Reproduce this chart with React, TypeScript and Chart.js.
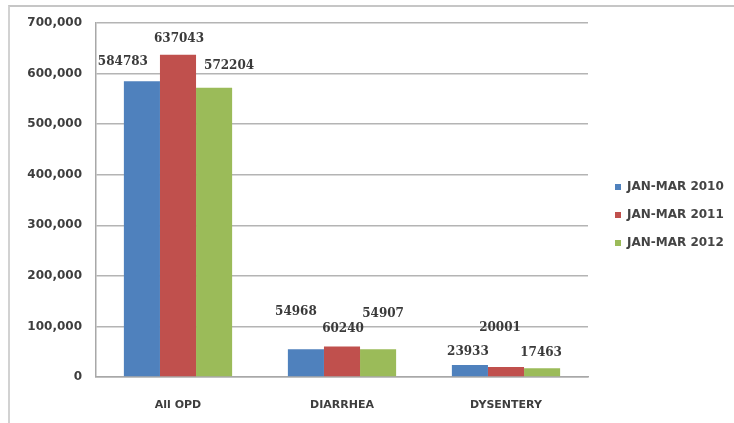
import React, { useEffect, useRef } from "react";
import { Chart, registerables } from "chart.js";

Chart.register(...registerables);

const categories = ["All OPD", "DIARRHEA", "DYSENTERY"];
const seriesLabels = ["JAN-MAR 2010", "JAN-MAR 2011", "JAN-MAR 2012"];
const values2010 = [584783, 54968, 23933];
const values2011 = [637043, 60240, 20001];
const values2012 = [572204, 54907, 17463];
const seriesColors = ["#4F81BD", "#C0504D", "#9BBB59"];
const yMin = 0;
const yMax = 700000;
const yStep = 100000;

// label placement offsets (dx, dy) relative to each bar's top centre, as in the original
const labelOffsets = [
  [[-19, -19], [-10, -37], [-2, -13]],
  [[1, -16], [1, -18], [-6, -39]],
  [[15, -22], [5, -35], [-1, -15]],
];

const valueLabelPlugin = {
  id: "valueLabels",
  afterDatasetsDraw(chart: any) {
    const ctx = chart.ctx;
    ctx.save();
    ctx.font = "bold 12px 'DejaVu Serif'";
    ctx.fillStyle = "#3a3a3a";
    ctx.textAlign = "center";
    ctx.textBaseline = "middle";
    chart.data.datasets.forEach((ds: any, di: number) => {
      const meta = chart.getDatasetMeta(di);
      meta.data.forEach((el: any, i: number) => {
        const off = labelOffsets[di][i];
        ctx.fillText(String(ds.data[i]), el.x + off[0], el.y + off[1]);
      });
    });
    ctx.restore();
  },
};

const legendPlugin = {
  id: "customLegend",
  afterDraw(chart: any) {
    const ctx = chart.ctx;
    const area = chart.chartArea;
    ctx.save();
    ctx.font = "bold 12px 'DejaVu Sans'";
    ctx.textBaseline = "middle";
    ctx.textAlign = "left";
    chart.data.datasets.forEach((ds: any, di: number) => {
      const y = 187 + di * 28;
      const x = area.right + 27;
      ctx.fillStyle = ds.backgroundColor;
      ctx.fillRect(x, y - 3, 6, 6);
      ctx.fillStyle = "#444";
      ctx.fillText(ds.label, x + 12, y);
    });
    ctx.restore();
  },
};

export default function App() {
  const canvasRef = useRef<HTMLCanvasElement | null>(null);

  useEffect(() => {
    if (!canvasRef.current) return;
    const seriesValues = [values2010, values2011, values2012];
    const chart = new Chart(canvasRef.current, {
      type: "bar",
      data: {
        labels: categories,
        datasets: seriesLabels.map((label, i) => ({
          label,
          data: seriesValues[i],
          backgroundColor: seriesColors[i],
          borderWidth: 0,
          categoryPercentage: 0.66,
          barPercentage: 1.0,
        })),
      },
      options: {
        animation: false,
        responsive: false,
        maintainAspectRatio: false,
        layout: { padding: { left: 0, top: 23, right: 146, bottom: 0 } },
        plugins: {
          legend: { display: false },
          tooltip: { enabled: false },
        },
        scales: {
          x: {
            grid: { display: false, drawTicks: false },
            border: { display: true, color: "#a8a8a8", width: 1.5 },
            ticks: {
              padding: 22,
              color: "#3e3e3e",
              font: { family: "'DejaVu Sans'", size: 11, weight: "bold" },
            },
            afterFit(scale: any) {
              scale.height = 46;
            },
          },
          y: {
            min: yMin,
            max: yMax,
            grid: { color: "#b4b4b4", lineWidth: 1.5, drawTicks: false },
            border: { display: true, color: "#a8a8a8", width: 1.5 },
            ticks: {
              stepSize: yStep,
              padding: 14,
              color: "#3e3e3e",
              font: { family: "'DejaVu Sans'", size: 12, weight: "bold" },
              callback: (v: any) => Number(v).toLocaleString("en-US"),
            },
            afterFit(scale: any) {
              scale.width = 96;
            },
          },
        },
      },
      plugins: [valueLabelPlugin, legendPlugin],
    });
    return () => chart.destroy();
  }, []);

  return (
    <div
      style={{
        position: "fixed",
        left: 0,
        top: 0,
        width: 734,
        height: 423,
        background: "#fff",
      }}
    >
      <div
        style={{
          position: "absolute",
          left: 8,
          top: 5,
          right: 0,
          bottom: 0,
          borderTop: "2px solid #c6c6c6",
          borderLeft: "2px solid #d2d2d2",
        }}
      />
      <canvas
        ref={canvasRef}
        width={734}
        height={423}
        style={{ position: "absolute", left: 0, top: 0, width: 734, height: 423 }}
      />
    </div>
  );
}
